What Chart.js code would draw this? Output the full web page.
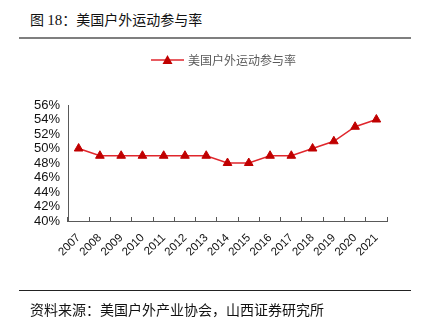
<!DOCTYPE html>
<html>
<head>
<meta charset="utf-8">
<script src="https://cdn.jsdelivr.net/npm/chart.js@4.4.0/dist/chart.umd.min.js"></script>
<style>
  body { margin: 0; background: #fff; }
  #wrap { position: relative; width: 426px; height: 327px; overflow: hidden; }
  #myChart { position: absolute; left: 0; top: 0; }
  .title { position: absolute; left: 30px; top: 9px; font: 14px "Noto Sans CJK SC", sans-serif; color: #111; white-space: nowrap; }
  .title .num { font-family: "Liberation Serif", serif; font-size: 15px; }
  .rule { position: absolute; left: 19px; width: 392px; }
  .source { position: absolute; left: 30px; top: 299px; font: 14px "Noto Sans CJK SC", sans-serif; color: #111; white-space: nowrap; }
</style>
</head>
<body>
<div id="wrap">
  <div class="title">图 <span class="num">18</span>：美国户外运动参与率</div>
  <div class="rule" style="top:37px;height:2px;background:#7f7f7f"></div>
  <canvas id="myChart" width="426" height="327"></canvas>
  <div class="rule" style="top:290px;height:1px;background:#222"></div>
  <div class="source">资料来源：美国户外产业协会，山西证券研究所</div>
</div>
<script>
let years = ["2007", "2008", "2009", "2010", "2011", "2012", "2013", "2014",
  "2015", "2016", "2017", "2018", "2019", "2020", "2021"];
let seriesName = "美国户外运动参与率";
let rate = [50, 49, 49, 49, 49, 49, 49, 48, 48, 49, 49, 50, 51, 53, 54];
let yMin = 40;
let yMax = 56;
let yStep = 2;

const lineColor = "#e0262c";
const markColor = "#c00000";

// legend drawn by hand: line with a triangle in the middle
const lineLegend = {
  id: "lineLegend",
  afterDraw(chart) {
    const c = chart.ctx;
    const y = 60;
    c.save();
    c.strokeStyle = lineColor;
    c.lineWidth = 1.5;
    c.beginPath();
    c.moveTo(151, y);
    c.lineTo(184, y);
    c.stroke();
    c.fillStyle = markColor;
    c.beginPath();
    c.moveTo(167.5, y - 5);
    c.lineTo(172.5, y + 4);
    c.lineTo(162.5, y + 4);
    c.closePath();
    c.fill();
    c.fillStyle = "#595959";
    c.font = '12px "Noto Sans CJK SC", sans-serif';
    c.textBaseline = "middle";
    c.fillText(chart.data.datasets[0].label, 188, y);
    c.restore();
  },
};

const ctx = document.getElementById("myChart");

new Chart(ctx, {
  type: "line",
  data: {
    labels: years,
    datasets: [
      {
        label: seriesName,
        data: rate,
        borderColor: lineColor,
        borderWidth: 1.5,
        pointStyle: "triangle",
        pointRadius: 5,
        pointBackgroundColor: markColor,
        pointBorderColor: markColor,
        pointBorderWidth: 1,
        tension: 0,
      },
    ],
  },
  options: {
    responsive: false,
    animation: false,
    layout: { padding: { left: 20, right: 39, top: 105, bottom: 68 } },
    plugins: {
      legend: { display: false },
      tooltip: { enabled: false },
    },
    scales: {
      x: {
        offset: true,
        grid: {
          offset: true,
          drawOnChartArea: false,
          drawTicks: true,
          tickLength: -4,
          color: "#595959",
        },
        border: { color: "#595959", width: 1 },
        ticks: {
          color: "#111",
          font: { family: "Liberation Sans", size: 11.5 },
          minRotation: 45,
          maxRotation: 45,
          padding: 14,
          autoSkip: false,
        },
        afterFit(scale) {
          scale.height = 38;
        },
      },
      y: {
        min: yMin,
        max: yMax,
        grid: { display: false, drawTicks: false },
        border: { color: "#595959", width: 1 },
        ticks: {
          stepSize: yStep,
          autoSkip: false,
          color: "#111",
          padding: 8,
          font: { family: "Liberation Sans", size: 13 },
          callback: (v) => v + "%",
        },
        afterFit(scale) {
          scale.width = 48;
        },
      },
    },
  },
  plugins: [lineLegend],
});
</script>
</body>
</html>
